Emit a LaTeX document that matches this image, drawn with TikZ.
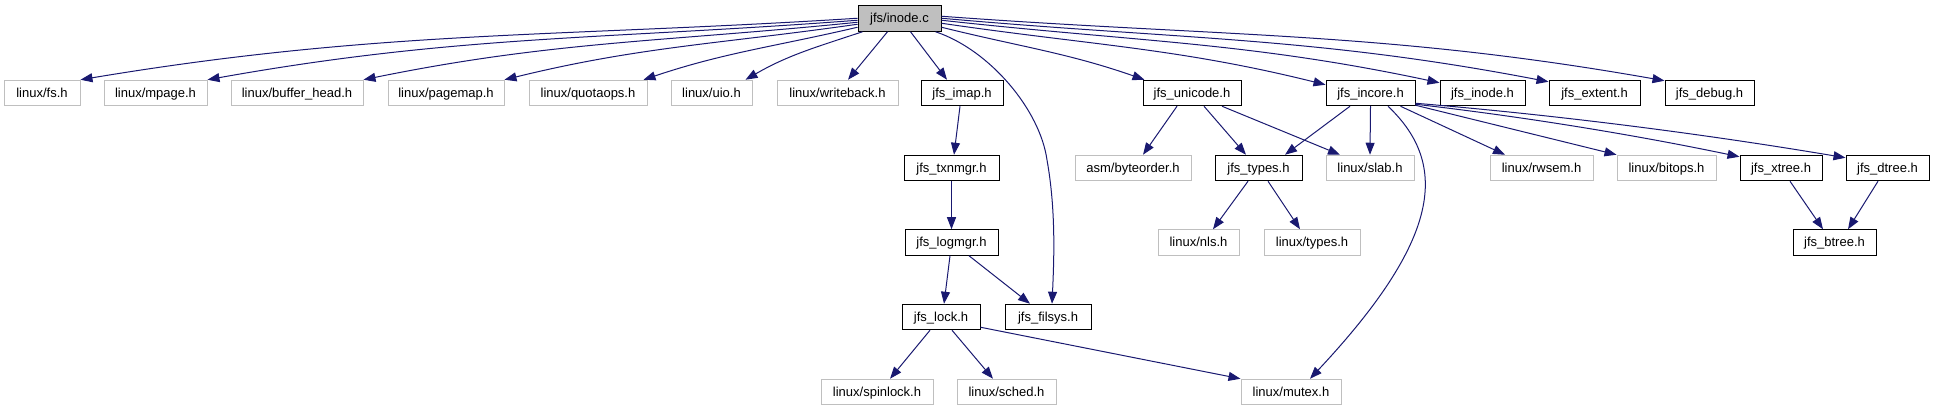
\documentclass[tikz,border=0pt]{standalone}
\usepackage{fontspec}
\setmainfont{Liberation Sans}
\usetikzlibrary{arrows.meta,calc}
\definecolor{edgeblue}{HTML}{191970}
\definecolor{extgray}{HTML}{BFBFBF}
\definecolor{rootfill}{HTML}{BFBFBF}
\begin{document}
\begin{tikzpicture}[x=1pt,y=-1pt,
  box/.style={rectangle, inner sep=0pt, minimum height=25.5pt, text height=12pt, text depth=3pt, line width=1pt, font=\fontsize{13}{15}\selectfont},
  intbox/.style={box, draw=black},
  extbox/.style={box, draw=extgray},
  rootbox/.style={box, draw=black, fill=rootfill},
  e/.style={draw=edgeblue, line width=1pt, -{Triangle[length=12pt,width=9pt]}}
]
\useasboundingbox (0,0) rectangle (1935,411);
% row 0
\node[rootbox, minimum width=83pt] (inode) at (899.5,18.5) {jfs/inode.c};
% row 1
\node[extbox, minimum width=76pt]  (fs)        at (42,93)    {linux/fs.h};
\node[extbox, minimum width=103pt] (mpage)     at (155.5,93) {linux/mpage.h};
\node[extbox, minimum width=132pt] (bh)        at (297,93)   {linux/buffer\_head.h};
\node[extbox, minimum width=116pt] (pagemap)   at (446,93)   {linux/pagemap.h};
\node[extbox, minimum width=118pt] (quotaops)  at (588,93)   {linux/quotaops.h};
\node[extbox, minimum width=81pt]  (uio)       at (711.5,93) {linux/uio.h};
\node[extbox, minimum width=121pt] (writeback) at (837.5,93) {linux/writeback.h};
\node[intbox, minimum width=82pt]  (imap)      at (962,93)   {jfs\_imap.h};
\node[intbox, minimum width=98pt]  (unicode)   at (1192,93)  {jfs\_unicode.h};
\node[intbox, minimum width=89pt]  (incore)    at (1370.5,93) {jfs\_incore.h};
\node[intbox, minimum width=85pt]  (jinode)    at (1482.5,93) {jfs\_inode.h};
\node[intbox, minimum width=91pt]  (extent)    at (1594.5,93) {jfs\_extent.h};
\node[intbox, minimum width=89pt]  (debug)     at (1709.5,93) {jfs\_debug.h};
% row 2
\node[intbox, minimum width=95pt]  (txnmgr)    at (951.5,168) {jfs\_txnmgr.h};
\node[extbox, minimum width=116pt] (byteorder) at (1133,168)  {asm/byteorder.h};
\node[intbox, minimum width=87pt]  (types)     at (1258.5,168) {jfs\_types.h};
\node[extbox, minimum width=88pt]  (slab)      at (1370,168)  {linux/slab.h};
\node[extbox, minimum width=103pt] (rwsem)     at (1541.5,168) {linux/rwsem.h};
\node[extbox, minimum width=99pt]  (bitops)    at (1666.5,168) {linux/bitops.h};
\node[intbox, minimum width=82pt]  (xtree)     at (1781,168)  {jfs\_xtree.h};
\node[intbox, minimum width=83pt]  (dtree)     at (1887.5,168) {jfs\_dtree.h};
% row 3
\node[intbox, minimum width=93pt]  (logmgr)    at (951.5,242.5) {jfs\_logmgr.h};
\node[extbox, minimum width=81pt]  (nls)       at (1198.5,242.5) {linux/nls.h};
\node[extbox, minimum width=96pt]  (ltypes)    at (1312,242.5) {linux/types.h};
\node[intbox, minimum width=83pt]  (btree)     at (1834.5,242.5) {jfs\_btree.h};
% row 4
\node[intbox, minimum width=78pt]  (lock)      at (941,317)   {jfs\_lock.h};
\node[intbox, minimum width=86pt]  (filsys)    at (1048,317)  {jfs\_filsys.h};
% row 5
\node[extbox, minimum width=112pt] (spinlock)  at (877,392)   {linux/spinlock.h};
\node[extbox, minimum width=99pt]  (sched)     at (1006.5,392) {linux/sched.h};
\node[extbox, minimum width=100pt] (mutex)     at (1291,392)  {linux/mutex.h};

% edges from jfs/inode.c, left fan
\draw[e] ($(inode.north west)+(0,13)$) .. controls (554.6,37.5) and (379.8,29.9) .. (fs.north east);
\draw[e] ($(inode.north west)+(0,15)$) .. controls (603.7,39.6) and (458,34.9) .. (mpage.north east);
\draw[e] ($(inode.north west)+(0,17)$) .. controls (664.6,41.9) and (553.3,41) .. (bh.north east);
\draw[e] ($(inode.north west)+(0,19)$) .. controls (719.6,44) and (639.6,46.6) .. (pagemap.north east);
\draw[e] ($(inode.north west)+(0,22)$) .. controls (773.8,46.8) and (724.8,52.5) .. ($(quotaops.north east)+(-4,0)$);
\draw[e] ($(inode.south west)+(5,0)$) .. controls (815.9,47.2) and (788.1,55.1) .. ($(uio.north east)+(-7,0)$);
\draw[e] ($(inode.south west)+(30,0)$) -- ($(writeback.north)+(10.5,0)$);
\draw[e] ($(inode.south west)+(53,0)$) -- ($(imap.north)+(-15,0)$);
% right fan
\draw[e] ($(inode.south east)+(-6,0)$) .. controls (990,50) and (1040,110) .. (1047,160)
         .. controls (1056,210) and (1054,260) .. ($(filsys.north)+(4,0)$);
\draw[e] ($(inode.north east)+(0,22)$) .. controls (1020.9,46.9) and (1067.5,52.9) .. ($(unicode.north west)+(2,0)$);
\draw[e] ($(inode.north east)+(0,18)$) .. controls (1091.5,45.2) and (1178.5,48.2) .. ($(incore.north west)+(0,5)$);
\draw[e] ($(inode.north east)+(0,15)$) .. controls (1136,41.8) and (1248.2,42) .. ($(jinode.north west)+(0,3)$);
\draw[e] ($(inode.north east)+(0,13)$) .. controls (1178.5,39.4) and (1314.9,36.8) .. ($(extent.north west)+(0,2)$);
\draw[e] ($(inode.north east)+(0,11)$) .. controls (1223.8,37) and (1385.9,31.5) .. ($(debug.north west)+(0,1)$);

% lower edges
\draw[e] ($(imap.south)+(-2,0)$) -- ($(txnmgr.north)+(2.5,0)$);
\draw[e] (txnmgr.south) -- (logmgr.north);
\draw[e] ($(logmgr.south)+(-1.5,0)$) -- ($(lock.north)+(3,0)$);
\draw[e] ($(logmgr.south)+(17.5,0)$) -- ($(filsys.north)+(-18,0)$);
\draw[e] ($(lock.south)+(-11,0)$) -- ($(spinlock.north)+(13,0)$);
\draw[e] ($(lock.south)+(11,0)$) -- ($(sched.north)+(-13.5,0)$);
\draw[e] ($(lock.south east)+(0,-3)$) -- (mutex.north west);

\draw[e] ($(unicode.south)+(-15,0)$) -- ($(byteorder.north)+(10,0)$);
\draw[e] ($(unicode.south)+(12,0)$) -- ($(types.north)+(-12.5,0)$);
\draw[e] ($(unicode.south)+(30,0)$) -- ($(slab.north)+(-30,0)$);

\draw[e] ($(incore.south)+(-20.5,0)$) -- ($(types.north)+(26.5,0)$);
\draw[e] (incore.south) -- (slab.north);
\draw[e] ($(incore.south)+(17.5,0)$) .. controls (1450,165) and (1440,240) .. ($(mutex.north)+(19,0)$);
\draw[e] ($(incore.south)+(30,0)$) -- ($(rwsem.north)+(-36.5,0)$);
\draw[e] ($(incore.south east)+(0,-1)$) -- (bitops.north west);
\draw[e] ($(incore.south east)+(0,-2)$) .. controls (1523.3,116.7) and (1631.7,134.3) .. ($(xtree.north west)+(0,2)$);
\draw[e] ($(incore.south east)+(0,-3)$) .. controls (1558.7,115.3) and (1702.3,133.7) .. ($(dtree.north west)+(0,3)$);

\draw[e] ($(types.south)+(-10.5,0)$) -- ($(nls.north)+(14.5,0)$);
\draw[e] ($(types.south)+(9.5,0)$) -- ($(ltypes.north)+(-12,0)$);
\draw[e] ($(xtree.south)+(9,0)$) -- ($(btree.north)+(-11.5,0)$);
\draw[e] ($(dtree.south)+(-9.5,0)$) -- ($(btree.north)+(13.5,0)$);
\end{tikzpicture}
\end{document}
